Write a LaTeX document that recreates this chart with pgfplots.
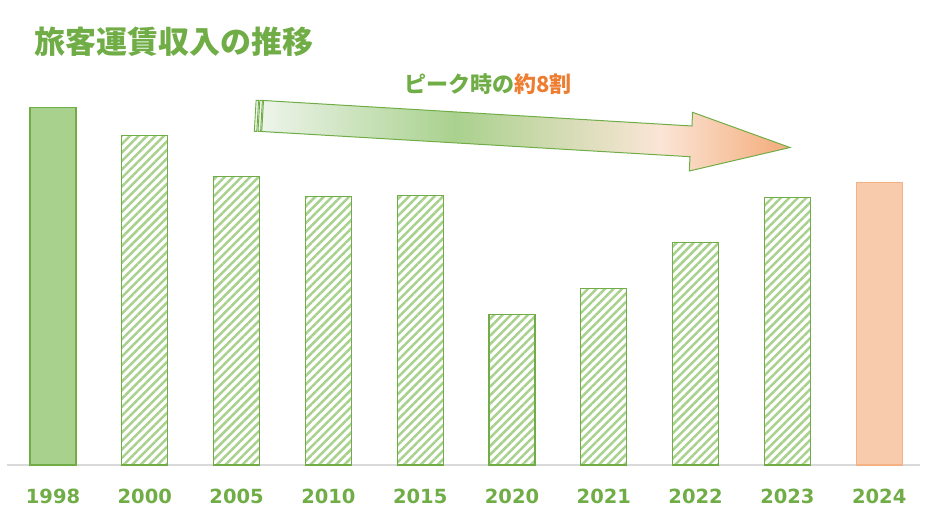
\documentclass[border=0pt]{standalone}
\usepackage{pgfplots}
\pgfplotsset{compat=1.18}
\usepackage{fontspec}
\usetikzlibrary{patterns.meta}
\newfontfamily\jp{Noto Sans CJK JP}
\newfontfamily\tickfont{DejaVu Sans}
\definecolor{mgreen}{HTML}{70AD47}
\definecolor{lgreen}{HTML}{A9D18E}
\definecolor{peach}{HTML}{F8CBAD}
\definecolor{peachline}{HTML}{F4B183}
\definecolor{orng}{HTML}{ED7D31}
\definecolor{axgray}{HTML}{D9D9D9}
\definecolor{sA}{HTML}{EDF4EA}
\definecolor{sB}{HTML}{A9D18E}
\definecolor{sC}{HTML}{FBE5D6}
\definecolor{sD}{HTML}{F4B183}
\pgfdeclarehorizontalshading{arrowshade}{100bp}{color(0bp)=(sA); color(25bp)=(sA); color(43.3bp)=(sB); color(62.7bp)=(sC); color(73.6bp)=(sD); color(100bp)=(sD)}
\begin{document}
\begin{tikzpicture}
\useasboundingbox (0,0) rectangle (946pt,512pt);
\begin{axis}[
  at={(7.1pt,47pt)}, anchor=south west,
  scale only axis, width=912.5pt, height=400pt,
  xmin=-0.5, xmax=9.44, ymin=0, ymax=400,
  axis x line*=bottom, axis y line=none,
  x axis line style={-, draw=axgray, line width=1.3pt},
  xtick={0,...,9},
  xticklabels={1998,2000,2005,2010,2015,2020,2021,2022,2023,2024},
  major tick length=0pt,
  xticklabel style={anchor=center, yshift=-31.5pt, text=mgreen, font=\tickfont\bfseries\fontsize{19.5}{23}\selectfont},
  ytick=\empty,
  ybar, bar width=46pt, clip=false,
]
\addplot[bar shift=0pt, fill=lgreen, draw=mgreen, line width=1.3pt] coordinates {(0,357.7)};
\addplot[bar shift=0pt, draw=mgreen, line width=1.3pt, pattern={Lines[angle=45, distance=6pt, line width=2.5pt]}, pattern color=lgreen] coordinates {(1,329.7) (2,288.7) (3,268.7) (4,269.7) (5,150.7) (6,176.7) (7,222.7) (8,267.7)};
\addplot[bar shift=0pt, fill=peach, draw=peachline, line width=1.3pt] coordinates {(9,282.7)};
\end{axis}
\begin{scope}[shift={(0pt,512pt)}, x=1pt, y=-1pt]
  \node[anchor=west, inner sep=0pt, text=mgreen, font=\jp\bfseries\fontsize{31}{36}\selectfont] at (34,42) {旅客運賃収入の推移};
  \node[anchor=west, inner sep=0pt, font=\jp\bfseries\fontsize{22}{26}\selectfont] at (404,84.5) {\textcolor{mgreen}{ピーク時の}\textcolor{orng}{約8割}};
  \shadedraw[shading=arrowshade, draw=mgreen, line width=1pt, line join=miter]
    (263.5,100.5) -- (692,126) -- (692.5,112.3) -- (790,147.5) -- (689.3,171) -- (690,156.7) -- (261.7,131.5) -- cycle;
  \filldraw[fill=sA, draw=mgreen, line width=0.9pt] (256.1,100.4) -- (258.6,100.4) -- (256.8,131.4) -- (254.3,131.4) -- cycle;
  \filldraw[fill=sA, draw=mgreen, line width=0.9pt] (259.8,100.4) -- (262.4,100.4) -- (260.6,131.4) -- (258.0,131.4) -- cycle;
\end{scope}
\end{tikzpicture}
\end{document}
